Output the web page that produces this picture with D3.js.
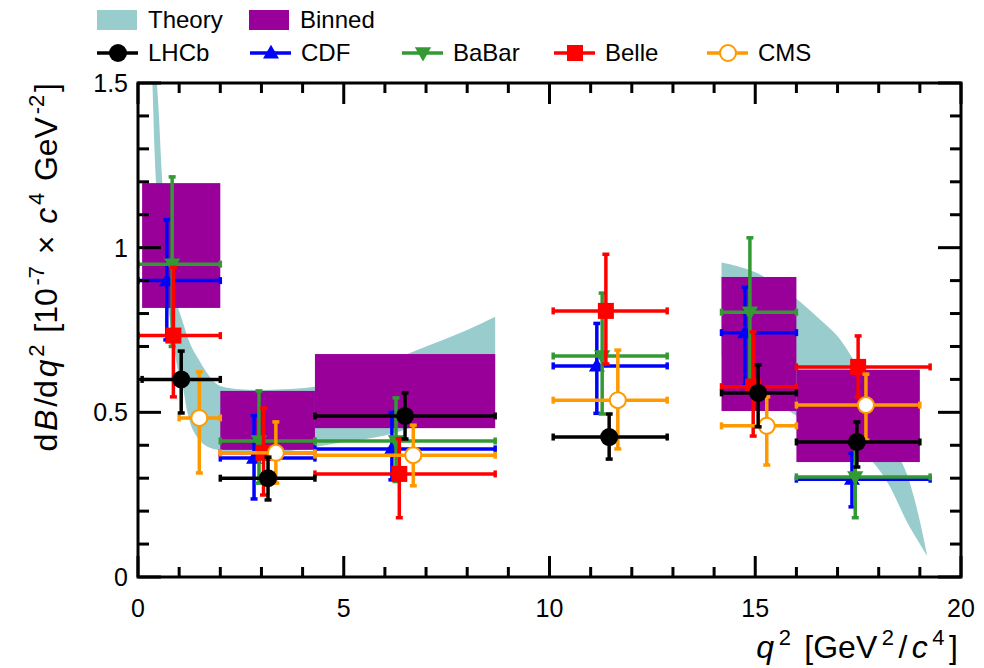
<!DOCTYPE html>
<html>
<head>
<meta charset="utf-8">
<script src="https://cdn.jsdelivr.net/npm/d3@7"></script>
<style>
  body { margin: 0; background: #fff; }
  text { font-family: "Liberation Sans", Arial, Helvetica, sans-serif; fill: #000; }
</style>
</head>
<body>
<svg id="chart" width="984" height="668"></svg>
<script>
// ---- theory band (upper / lower edge), two q2 regions
const theoryQ1  = [0.1, 0.2, 0.3, 0.35, 0.4, 0.46, 0.5, 0.58, 0.7, 0.83, 0.95, 1.1, 1.2, 1.5, 1.8, 2.0, 2.5, 3.0, 3.5, 4.3, 5.0, 6.0, 7.0, 8.0, 8.68];
const theoryUp1 = [3.0, 2.4, 1.85, 1.7, 1.6, 1.5, 1.42, 1.22, 1.02, 0.9, 0.83, 0.77, 0.73, 0.655, 0.6, 0.58, 0.57, 0.568, 0.57, 0.578, 0.6, 0.65, 0.70, 0.75, 0.79];
const theoryLo1 = [2.4, 1.9, 1.65, 1.5, 1.3, 1.15, 1.07, 0.95, 0.84, 0.74, 0.64, 0.57, 0.5, 0.415, 0.39, 0.385, 0.376, 0.375, 0.38, 0.395, 0.41, 0.43, 0.47, 0.52, 0.56];
const theoryQ2  = [14.18, 15, 15.5, 16, 16.5, 17.13, 17.6, 18.2, 18.76, 19.0, 19.17];
const theoryUp2 = [0.955, 0.925, 0.89, 0.845, 0.79, 0.71, 0.61, 0.43, 0.285, 0.17, 0.07];
const theoryLo2 = [0.67, 0.58, 0.53, 0.49, 0.45, 0.41, 0.38, 0.29, 0.15, 0.10, 0.065];

// ---- binned prediction boxes
const binnedBins = [[0.1, 2], [2, 4.3], [4.3, 8.68], [14.18, 16], [16, 19]];
const binnedLo = [0.817, 0.386, 0.452, 0.504, 0.349];
const binnedHi = [1.196, 0.565, 0.677, 0.911, 0.629];

// ---- measurements: [binLo, binHi, q2, value, errLow, errHigh]
const cdf = [
  [0, 2, 0.7, 0.90, 0.72, 1.085],
  [2, 4.3, 2.82, 0.361, 0.237, 0.49],
  [4.3, 8.68, 6.17, 0.389, 0.295, 0.50],
  [10.09, 12.86, 11.15, 0.641, 0.497, 0.77],
  [14.18, 16, 14.75, 0.742, 0.58, 0.88],
  [16, 19.25, 17.35, 0.297, 0.213, 0.376]
];
const babar = [
  [0, 2, 0.83, 0.95, 0.70, 1.215],
  [2, 4.3, 2.94, 0.413, 0.285, 0.565],
  [4.3, 8.68, 6.27, 0.413, 0.29, 0.544],
  [10.09, 12.86, 11.28, 0.671, 0.495, 0.862],
  [14.18, 16, 14.87, 0.804, 0.58, 1.03],
  [16, 19.25, 17.43, 0.304, 0.18, 0.41]
];
const belle = [
  [0, 2, 0.86, 0.733, 0.547, 0.94],
  [2, 4.3, 3.05, 0.377, 0.249, 0.513],
  [4.3, 8.68, 6.35, 0.313, 0.18, 0.42],
  [10.09, 12.86, 11.37, 0.808, 0.647, 0.98],
  [14.18, 16, 14.95, 0.578, 0.428, 0.744],
  [16, 19.25, 17.5, 0.638, 0.547, 0.732]
];
const cms = [
  [1, 2, 1.49, 0.483, 0.316, 0.623],
  [2, 4.3, 3.35, 0.377, 0.285, 0.471],
  [4.3, 8.68, 6.69, 0.37, 0.277, 0.461],
  [10.09, 12.86, 11.66, 0.537, 0.389, 0.689],
  [14.18, 16, 15.28, 0.459, 0.34, 0.547],
  [16, 19, 17.69, 0.522, 0.416, 0.616]
];
const lhcb = [
  [0.1, 2, 1.05, 0.60, 0.498, 0.686],
  [2, 4.3, 3.16, 0.30, 0.234, 0.364],
  [4.3, 8.68, 6.49, 0.489, 0.419, 0.559],
  [10.09, 12.86, 11.45, 0.425, 0.358, 0.495],
  [14.18, 16, 15.07, 0.559, 0.456, 0.644],
  [16, 19, 17.47, 0.41, 0.334, 0.471]
];

const xTicks = [0, 5, 10, 15, 20];
const yTicks = [0, 0.5, 1, 1.5];

// ---- layout
const L = 138, R = 961, T = 83, B = 577;
const svg = d3.select('#chart');
const x = d3.scaleLinear().domain([0, 20]).range([L, R]);
const y = d3.scaleLinear().domain([0, 1.5]).range([B, T]);

const C_THEORY = '#99cccc', C_BIN = '#990099';

svg.append('defs').append('clipPath').attr('id', 'plot-clip')
  .append('rect').attr('x', L).attr('y', T).attr('width', R - L).attr('height', B - T);

const gPlot = svg.append('g').attr('clip-path', 'url(#plot-clip)');

// Theory band
const band = d3.area().x(d => x(d[0])).y0(d => y(d[2])).y1(d => y(d[1])).curve(d3.curveMonotoneX);
[[theoryQ1, theoryUp1, theoryLo1], [theoryQ2, theoryUp2, theoryLo2]].forEach(([q, up, lo]) => {
  gPlot.append('path')
    .datum(q.map((v, i) => [v, up[i], lo[i]]))
    .attr('d', band).attr('fill', C_THEORY);
});

// Binned boxes
gPlot.selectAll('.bin').data(binnedBins).enter().append('rect')
  .attr('x', d => x(d[0])).attr('width', d => x(d[1]) - x(d[0]))
  .attr('y', (d, i) => y(binnedHi[i]))
  .attr('height', (d, i) => y(binnedLo[i]) - y(binnedHi[i]))
  .attr('fill', C_BIN);

// Measurements
const SW = 3.5, CAP = 3.5;
function marker(g, kind, color, cx, cy) {
  if (kind === 'circle') {
    g.append('circle').attr('cx', cx).attr('cy', cy).attr('r', 9).attr('fill', color);
  } else if (kind === 'open') {
    g.append('circle').attr('cx', cx).attr('cy', cy).attr('r', 8)
      .attr('fill', '#fff').attr('stroke', color).attr('stroke-width', 2);
  } else if (kind === 'tri') {
    g.append('path').attr('d', d3.symbol(d3.symbolTriangle, 110)())
      .attr('transform', `translate(${cx},${cy + 1})`).attr('fill', color);
  } else if (kind === 'tridown') {
    g.append('path').attr('d', d3.symbol(d3.symbolTriangle, 115)())
      .attr('transform', `translate(${cx},${cy - 1}) rotate(180)`).attr('fill', color);
  } else if (kind === 'square') {
    g.append('rect').attr('x', cx - 8).attr('y', cy - 8).attr('width', 16).attr('height', 16).attr('fill', color);
  }
}
function series(rows, color, kind) {
  const g = gPlot.append('g');
  rows.forEach(([a, b, q, v, lo, hi]) => {
    const px = x(q), py = y(v);
    g.append('line').attr('x1', x(a)).attr('x2', x(b)).attr('y1', py).attr('y2', py)
      .attr('stroke', color).attr('stroke-width', SW);
    g.append('line').attr('x1', px).attr('x2', px).attr('y1', y(lo)).attr('y2', y(hi))
      .attr('stroke', color).attr('stroke-width', SW);
    // end caps
    [[x(a), py, 'v'], [x(b), py, 'v'], [px, y(lo), 'h'], [px, y(hi), 'h']].forEach(([cx, cy, o]) => {
      g.append('line')
        .attr('x1', o === 'v' ? cx : cx - CAP).attr('x2', o === 'v' ? cx : cx + CAP)
        .attr('y1', o === 'v' ? cy - CAP : cy).attr('y2', o === 'v' ? cy + CAP : cy)
        .attr('stroke', color).attr('stroke-width', SW);
    });
    marker(g, kind, color, px, py);
  });
}
series(cdf, '#0000ff', 'tri');
series(babar, '#339933', 'tridown');
series(belle, '#ff0000', 'square');
series(cms, '#ff9900', 'open');
series(lhcb, '#000000', 'circle');

// ---- frame & ticks
const gAx = svg.append('g').attr('stroke', '#000').attr('stroke-width', 3);
gAx.append('rect').attr('x', L).attr('y', T).attr('width', R - L).attr('height', B - T).attr('fill', 'none');
d3.range(0, 21, 1).forEach(v => {
  const len = v % 5 === 0 ? 21 : 10;
  gAx.append('line').attr('x1', x(v)).attr('x2', x(v)).attr('y1', B).attr('y2', B - len);
  gAx.append('line').attr('x1', x(v)).attr('x2', x(v)).attr('y1', T).attr('y2', T + len);
});
d3.range(0, 16, 1).forEach(i => {
  const v = i / 10, len = i % 5 === 0 ? 23 : 11;
  gAx.append('line').attr('x1', L).attr('x2', L + len).attr('y1', y(v)).attr('y2', y(v));
  gAx.append('line').attr('x1', R).attr('x2', R - len).attr('y1', y(v)).attr('y2', y(v));
});

svg.selectAll('.xt').data(xTicks).enter().append('text')
  .attr('x', d => x(d)).attr('y', 617).attr('text-anchor', 'middle')
  .style('font-size', '25px').text(d => d);
svg.selectAll('.yt').data(yTicks).enter().append('text')
  .attr('x', 128).attr('y', d => y(d)).attr('dy', '0.36em').attr('text-anchor', 'end')
  .style('font-size', '25px').text(d => d);

// axis titles (superscripts shifted up, then back down; small gaps like TLatex)
function rich(t, parts, gap) {
  parts.forEach((p, i) => {
    const s = t.append('tspan').text(p.t);
    if (i > 0) s.attr('dx', gap);
    if (p.i) s.style('font-style', 'italic');
    if (p.sup) s.style('font-size', '22px').attr('dy', -13);
    if (p.after) s.attr('dy', 13);
  });
}
const xt = svg.append('text').attr('x', 958).attr('y', 658).attr('text-anchor', 'end')
  .style('font-size', '32px');
rich(xt, [{ t: 'q', i: 1 }, { t: '2', sup: 1 }, { t: ' [GeV', after: 1 }, { t: '2', sup: 1 },
  { t: '/', after: 1 }, { t: 'c', i: 1 }, { t: '4', sup: 1 }, { t: ']', after: 1 }], 4.5);

const yt = svg.append('text').attr('transform', 'translate(57,83) rotate(-90)')
  .attr('text-anchor', 'end').style('font-size', '32px');
rich(yt, [{ t: 'd' }, { t: 'B', i: 1 }, { t: '/d' }, { t: 'q', i: 1 }, { t: '2', sup: 1 },
  { t: ' [10', after: 1 }, { t: '-7', sup: 1 }, { t: ' \u00d7 ', after: 1 }, { t: 'c', i: 1 },
  { t: '4', sup: 1 }, { t: ' GeV', after: 1 }, { t: '-2', sup: 1 }, { t: ']', after: 1 }], 2.8);

// ---- legend
const lg = svg.append('g');
[['Theory', C_THEORY, 97], ['Binned', C_BIN, 249]].forEach(([name, col, lx]) => {
  lg.append('rect').attr('x', lx).attr('y', 10).attr('width', 40).attr('height', 20).attr('fill', col);
  lg.append('text').attr('x', lx + 51).attr('y', 28).style('font-size', '24px').text(name);
});
const legendItems = [
  ['LHCb', '#000000', 'circle', 97],
  ['CDF', '#0000ff', 'tri', 250],
  ['BaBar', '#339933', 'tridown', 402],
  ['Belle', '#ff0000', 'square', 554],
  ['CMS', '#ff9900', 'open', 707]
];
legendItems.forEach(([name, col, kind, lx]) => {
  lg.append('line').attr('x1', lx).attr('x2', lx + 41).attr('y1', 53).attr('y2', 53)
    .attr('stroke', col).attr('stroke-width', SW);
  marker(lg, kind, col, lx + 21, 53);
  lg.append('text').attr('x', lx + 51).attr('y', 61).style('font-size', '24px').text(name);
});
</script>
</body>
</html>
